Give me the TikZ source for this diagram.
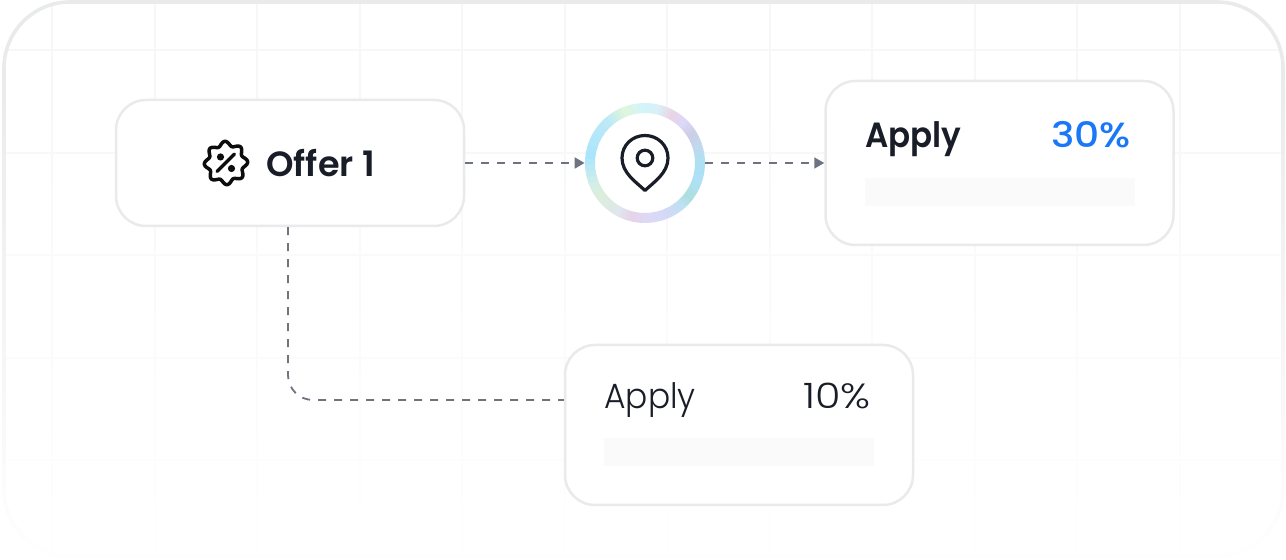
\documentclass[tikz,border=0pt]{standalone}
\usepackage{fontspec}
\setmainfont{Poppins}
\newfontfamily\boldfont{Poppins SemiBold}
\newfontfamily\boldnarrow[FakeStretch=0.93]{Poppins SemiBold}
\newfontfamily\medwide[FakeStretch=1.12]{Poppins Medium}
\newfontfamily\lightfont[FakeStretch=0.94]{Poppins Light}
\newfontfamily\lightwide[FakeStretch=1.18]{Poppins Light}
\usetikzlibrary{arrows.meta,fadings}
\definecolor{edgegray}{HTML}{E9EAEC}
\definecolor{gridgray}{HTML}{F7F7F8}
\definecolor{bargray}{HTML}{FAFAFA}
\definecolor{dashgray}{HTML}{6F7280}
\definecolor{inkdark}{HTML}{191D27}
\definecolor{offerblue}{HTML}{1A78F8}
\tikzfading[name=framefade,top color=transparent!100,bottom color=transparent!0]
\tikzset{
	card/.style={draw=edgegray,line width=1.25pt,fill=white,rounded corners=15pt,minimum width=174pt},
	dashline/.style={draw=dashgray,line width=0.9pt,dash pattern=on 4pt off 4pt},
	dasharrow/.style={dashline,-{Triangle[length=5pt,width=5.5pt,fill=dashgray]}},
	label/.style={inner sep=0pt,text=inkdark},
	bar/.style={fill=bargray}
}
\begin{document}
\begin{tikzpicture}[x=0.5pt,y=-0.5pt]
	\useasboundingbox (0,0) rectangle (1286,560);
	
	% grid and frame
	\begin{scope}
		\clip[rounded corners=33pt] (4,1) rectangle (1283,556);
		\foreach \gx in {52,155,257,360,462,565,667,770,872,975,1077,1180}
			\draw[gridgray,line width=0.6pt] (\gx,0) -- (\gx,560);
		\foreach \gy in {50,153,255,358,460}
			\draw[gridgray,line width=0.6pt] (0,\gy) -- (1286,\gy);
	\end{scope}
	\draw[edgegray,line width=1.8pt,rounded corners=33pt] (4,2) rectangle (1283,556);
	\fill[white,path fading=framefade] (-1,60) rectangle (1287,561);
	
	% boxes
	\node[card,minimum height=63pt] (offer) at (290,163) {};
	\node[card,minimum height=82pt] (applyhigh) at (999.5,163) {};
	\node[card,minimum height=80pt] (applylow) at (739,425) {};
	\node[circle,fill=white,minimum size=60pt,inner sep=0pt] (pin) at (645,163) {};
	
	% ring, one stop to the next
	\definecolor{r0}{HTML}{AEE0F4}
	\definecolor{r1}{HTML}{C0D9EE}
	\definecolor{r2}{HTML}{CBCEE6}
	\definecolor{r3}{HTML}{DCD8F7}
	\definecolor{r4}{HTML}{E9D4E5}
	\definecolor{r5}{HTML}{D9F0F8}
	\definecolor{r6}{HTML}{D2F4FB}
	\definecolor{r7}{HTML}{E0F6DC}
	\definecolor{r8}{HTML}{BCE9F6}
	\definecolor{r9}{HTML}{A9E5FB}
	\definecolor{r10}{HTML}{D2EEE8}
	\definecolor{r11}{HTML}{DCEEDB}
	\definecolor{r12}{HTML}{DFE6EE}
	\definecolor{r13}{HTML}{E6D3E8}
	\definecolor{r14}{HTML}{DED8F7}
	\definecolor{r15}{HTML}{D3D9F6}
	\definecolor{r16}{HTML}{BEE0F1}
	\definecolor{r17}{HTML}{AEDFDF}
	\definecolor{r18}{HTML}{AEE0F6}
	\foreach \sa/\sb/\ca/\cb in {0/15/r0/r1,15/30/r1/r2,30/45/r2/r3,45/60/r3/r4,60/75/r4/r5,75/90/r5/r6,90/110/r6/r7,110/130/r7/r8,130/170/r8/r9,170/200/r9/r10,200/215/r10/r11,215/240/r11/r12,240/255/r12/r13,255/270/r13/r14,270/290/r14/r15,290/310/r15/r16,310/320/r16/r17,320/340/r17/r18,340/360/r18/r0}
		\foreach \st in {0,20,40,60,80}
			\draw[line width=5pt,color=\cb!\st!\ca,line cap=butt]
				({645+55*cos(\sa+(\sb-\sa)*\st/100)},{163-55*sin(\sa+(\sb-\sa)*\st/100)})
				arc[start angle={\sa+(\sb-\sa)*\st/100},delta angle={(\sb-\sa)*0.22},x radius=27.5pt,y radius=27.5pt];
	
	% pin icon
	\draw[inkdark,line width=1.6pt,line join=round] (645,190.5)
		.. controls (636,182) and (622,173) .. (622,158)
		.. controls (622,145) and (632.5,135.5) .. (645,135.5)
		.. controls (657.5,135.5) and (668,145) .. (668,158)
		.. controls (668,173) and (654,182) .. (645,190.5) -- cycle;
	\draw[inkdark,line width=1.6pt] (645,158) circle[radius=3.9pt];
	
	% badge icon
	\draw[black!95,line width=1.75pt,line join=round] plot[domain=0:360,samples=97,smooth] ({226+(19.5+2.2*cos(8*\x+22))*cos(\x)},{163+(19.5+2.2*cos(8*\x+22))*sin(\x)}) -- cycle;
	\draw[black!95,line width=1.75pt,line cap=round] (217,171.5) -- (234.5,154);
	\fill[black!95] (220.5,157) circle[radius=1.8pt] (231.5,168.5) circle[radius=1.8pt];
	
	% labels
	\node[label,anchor=base west,font=\boldfont\fontsize{17.5}{20}\selectfont] (offername) at (266,177) {Offer 1};
	\node[label,anchor=base west,font=\boldnarrow\fontsize{17.5}{20}\selectfont] (applyname) at (865,148) {Apply};
	\node[label,anchor=base east,text=offerblue,font=\medwide\fontsize{17.5}{20}\selectfont] (applyrate) at (1131,148) {30\%};
	\node[label,anchor=base west,font=\lightfont\fontsize{17.5}{20}\selectfont] (lowname) at (604,409) {Apply};
	\node[label,anchor=base east,font=\lightwide\fontsize{17.5}{20}\selectfont] (lowrate) at (871,409) {10\%};
	\fill[bar] (865,178) rectangle (1135,206);
	\fill[bar] (604,438) rectangle (874,466);
	
	% connectors
	\coordinate (turn) at (288,400);
	\draw[dasharrow] (offer) -- (pin);
	\draw[dasharrow] (pin) -- (applyhigh);
	\draw[dashline,rounded corners=12.5pt] (offer.south -| turn) -- (turn) -- (turn -| applylow.west);
\end{tikzpicture}
\end{document}
